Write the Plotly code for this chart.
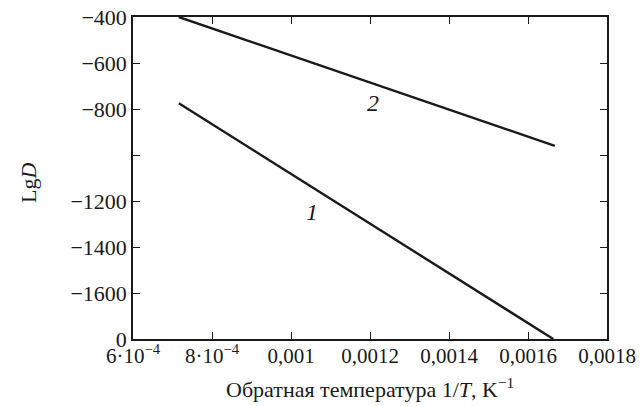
import plotly.graph_objects as go

# Data
inv_T_1 = [0.000716, 0.001664]
lgD_1 = [-775, -1800]
inv_T_2 = [0.000716, 0.001668]
lgD_2 = [-400, -960]

curve_labels = ["1", "2"]
label_x = [0.001053, 0.001208]
label_y = [-1249, -775]

x_tickvals = [0.0006, 0.0008, 0.0010, 0.0012, 0.0014, 0.0016, 0.0018]
x_ticktext = ["6·10<sup>−4</sup>", "8·10<sup>−4</sup>", "0,001", "0,0012",
              "0,0014", "0,0016", "0,0018"]
y_tickvals = [-400, -600, -800, -1000, -1200, -1400, -1600, -1800]
y_ticktext = ["−400", "−600", "−800", "", "−1200", "−1400", "−1600", "0"]

x_title = "Обратная температура 1/<i>T</i>, K<sup>−1</sup>"
y_title = "Lg<i>D</i>"

FONT = "Liberation Serif, Times New Roman, serif"
INK = "#1a1a1a"

fig = go.Figure()
fig.add_trace(go.Scatter(x=inv_T_1, y=lgD_1, mode="lines",
                         line=dict(color=INK, width=2.4), showlegend=False))
fig.add_trace(go.Scatter(x=inv_T_2, y=lgD_2, mode="lines",
                         line=dict(color=INK, width=2.4), showlegend=False))

for t, xx, yy in zip(curve_labels, label_x, label_y):
    fig.add_annotation(x=xx, y=yy, text="<i>" + t + "</i>", showarrow=False,
                       font=dict(family=FONT, size=24, color=INK))

# axis titles as annotations for exact placement
fig.add_annotation(xref="paper", yref="paper", x=0.5, y=0, yshift=-33,
                   xanchor="center", yanchor="top", showarrow=False,
                   text=x_title, font=dict(family=FONT, size=22, color=INK))
fig.add_annotation(xref="paper", yref="paper", x=0, y=0.5, xshift=-105, yshift=-5,
                   xanchor="center", yanchor="middle", showarrow=False,
                   textangle=-90, text=y_title,
                   font=dict(family=FONT, size=22, color=INK))

fig.update_layout(
    width=640, height=406,
    margin=dict(l=133, r=33, t=17, b=67),
    paper_bgcolor="white", plot_bgcolor="white",
    font=dict(family=FONT, size=22, color=INK),
    xaxis=dict(
        range=[0.0006, 0.0018], tickvals=x_tickvals, ticktext=x_ticktext,
        ticks="inside", ticklen=7, tickwidth=1.3, tickcolor=INK,
        showline=True, linecolor=INK, linewidth=1.6, mirror="ticks",
        showgrid=False, zeroline=False, automargin=False,
        ticklabelstandoff=-3,
        tickfont=dict(family=FONT, size=21, color=INK),
    ),
    yaxis=dict(
        range=[-1800, -400], tickvals=y_tickvals, ticktext=y_ticktext,
        ticks="inside", ticklen=7, tickwidth=1.3, tickcolor=INK,
        showline=True, linecolor=INK, linewidth=1.6, mirror="ticks",
        showgrid=False, zeroline=False, automargin=False,
        tickfont=dict(family=FONT, size=22, color=INK),
    ),
)

fig.write_html("out.html", config={"displayModeBar": False},
               post_script="document.body.style.margin='0';")
